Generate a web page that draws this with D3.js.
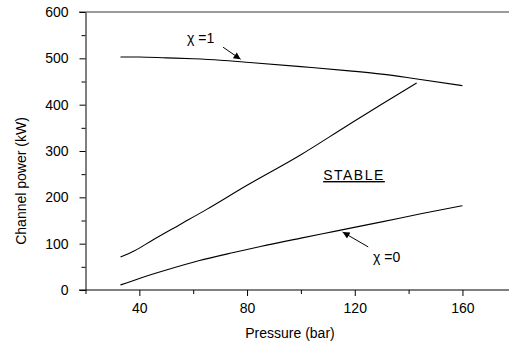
<!DOCTYPE html>
<html lang="en">
<head>
<meta charset="UTF-8">
<script src="https://d3js.org/d3.v7.min.js"></script>
<style>
body { margin: 0; background: white; }
svg { display: block; }
text { font-family: "Liberation Sans", Arial, sans-serif; font-size: 14px; fill: #000; }
.curve { fill: none; stroke: #000; stroke-width: 1.1px; }
</style>
</head>
<body>
<div id="chart"></div>
<script>
// chi = 1 curve
var p1 = [33, 40, 50, 60, 70, 81, 100, 118, 130, 142.5, 160];
var w1 = [503, 503, 501, 499, 496, 491, 482, 473, 466, 456, 441];
// stability boundary
var pB = [33, 38, 45, 55, 65, 80, 100, 117, 130, 143];
var wB = [71, 84, 108, 141, 174, 226, 292, 354, 401, 447];
// chi = 0 curve
var p0 = [33, 40, 50, 62, 75, 85, 100, 112, 130, 145, 160];
var w0 = [11, 25, 43, 63, 81, 94, 112, 126, 147, 165, 182];

var xMajor = [40, 80, 120, 160];
var xMinor = [20, 60, 100, 140];
var yMajor = [0, 100, 200, 300, 400, 500, 600];
var yMinor = [50, 150, 250, 350, 450, 550];

var W = 509, H = 350;
var svg = d3.select("#chart").append("svg")
    .attr("width", W).attr("height", H);

var x = d3.scaleLinear().domain([20, 180]).range([85.5, 516.3]);
var y = d3.scaleLinear().domain([0, 600]).range([290, 12]);

// top frame line
svg.append("line")
    .attr("x1", 79).attr("x2", W)
    .attr("y1", y(600)).attr("y2", y(600))
    .attr("stroke", "#7a7a7a").attr("stroke-width", 1.6);

// x axis
var gx = svg.append("g").attr("transform", "translate(0," + y(0) + ")");
gx.call(d3.axisBottom(x).tickValues(xMajor).tickSize(6).tickSizeOuter(0).tickPadding(7));
gx.append("g").call(d3.axisBottom(x).tickValues(xMinor).tickSize(4).tickFormat(""))
  .select(".domain").remove();
gx.select(".domain").attr("d", "M79,0H" + W);
gx.selectAll("text").attr("font-size", 14).attr("font-family", "Liberation Sans, Arial, sans-serif");
gx.selectAll("line, path").attr("stroke", "#000");

// y axis
var gy = svg.append("g").attr("transform", "translate(" + x(20) + ",0)");
gy.call(d3.axisLeft(y).tickValues(yMajor).tickSize(6).tickSizeOuter(0).tickPadding(11));
gy.append("g").call(d3.axisLeft(y).tickValues(yMinor).tickSize(4).tickFormat(""))
  .select(".domain").remove();
gy.selectAll("text").attr("font-size", 14).attr("font-family", "Liberation Sans, Arial, sans-serif");
gy.selectAll("line, path").attr("stroke", "#000");

// axis titles
svg.append("text")
    .attr("x", 290).attr("y", 338)
    .attr("text-anchor", "middle")
    .text("Pressure (bar)");
svg.append("text")
    .attr("transform", "translate(26,181) rotate(-90)")
    .attr("text-anchor", "middle")
    .text("Channel power (kW)");

// curves
var line = d3.line().curve(d3.curveMonotoneX)
    .x(function(d) { return x(d[0]); })
    .y(function(d) { return y(d[1]); });

[[p1, w1], [pB, wB], [p0, w0]].forEach(function(s) {
  svg.append("path").attr("class", "curve")
      .attr("d", line(d3.zip(s[0], s[1])));
});

// arrow marker
svg.append("defs").append("marker")
    .attr("id", "arr")
    .attr("viewBox", "0 0 10 10")
    .attr("refX", 10).attr("refY", 5)
    .attr("markerWidth", 9).attr("markerHeight", 7)
    .attr("markerUnits", "userSpaceOnUse")
    .attr("orient", "auto")
  .append("path").attr("d", "M0,0L10,5L0,10z").attr("fill", "#000");

// chi = 1 label
svg.append("text").attr("x", 187).attr("y", 43).text("\u03C7 =1");
svg.append("line")
    .attr("x1", x(71.1)).attr("y1", y(524))
    .attr("x2", x(77.6)).attr("y2", y(498))
    .attr("stroke", "#000").attr("stroke-width", 1)
    .attr("marker-end", "url(#arr)");

// chi = 0 label
svg.append("text").attr("x", 373).attr("y", 262).text("\u03C7 =0");
svg.append("line")
    .attr("x1", x(125)).attr("y1", y(93))
    .attr("x2", x(115.5)).attr("y2", y(125))
    .attr("stroke", "#000").attr("stroke-width", 1)
    .attr("marker-end", "url(#arr)");

// STABLE label
svg.append("text")
    .attr("x", 354).attr("y", 180)
    .attr("text-anchor", "middle")
    .attr("letter-spacing", "1.5px")
    .attr("text-decoration", "underline")
    .text("STABLE");
</script>
</body>
</html>
